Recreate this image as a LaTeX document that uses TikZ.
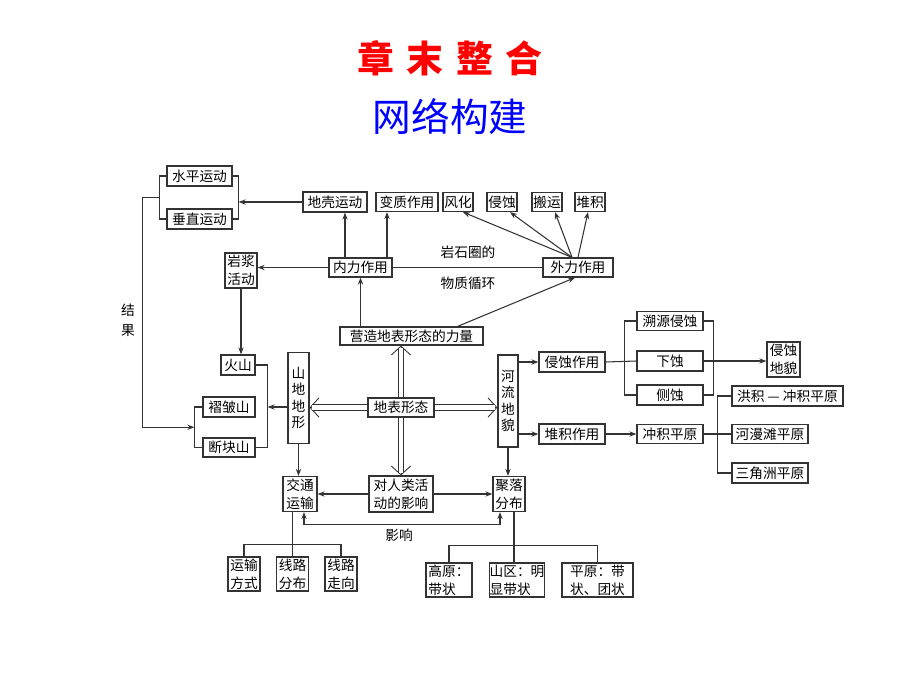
\documentclass[tikz,border=0pt]{standalone}
\usepackage{fontspec}
\setmainfont{Noto Sans CJK SC}
\usetikzlibrary{arrows.meta, calc}

\tikzset{
  box/.style={draw=black!80, line width=0.7pt, fill=white, inner sep=0pt,
    minimum height=20*0.02cm, align=center,
    font=\fontsize{7.8}{10.2}\selectfont},
  vbox/.style={box, font=\fontsize{7.8}{9.4}\selectfont},
  wd/.style={minimum width=#1*0.02cm},
  ht/.style={minimum height=#1*0.02cm},
  conn/.style={line width=0.6pt, draw=black!80},
  dbl/.style={draw=black!80, line width=0.5pt, double, double distance=2.6pt,
    shorten >=1.5pt},
  barb/.style={draw=black!80, line width=0.5pt,
    -{Straight Barb[length=5pt, width=11pt]}},
  lbl/.style={font=\fontsize{7.8}{11.3}\selectfont, align=center}
}

\begin{document}
\begin{tikzpicture}[x=0.02cm, y=-0.02cm, >={Stealth[length=4pt,width=3pt]}]
  \fill[white] (0,0) rectangle (920,690);
  \useasboundingbox (0,0) rectangle (920,690);

  % titles
  \node[text=red, font=\fontsize{21}{24}\selectfont\bfseries] (t1) at (450,58)
    {章\hspace{7pt}末\hspace{7pt}整\hspace{7pt}合};
  \node[text=blue, font=\fontsize{22}{25}\selectfont] (t2) at (450,117) {网络构建};

  % top row
  \node[box, wd=65] (spH) at (199.5,176) {水平运动};
  \node[box, wd=65] (spV) at (199.5,219) {垂直运动};
  \node[box, wd=64] (dk) at (335,202) {地壳运动};
  \node[box, wd=62, ht=19] (bz) at (407,202) {变质作用};
  \node[box, wd=30, ht=19] (fh) at (458,202) {风化};
  \node[box, wd=30, ht=19] (qs) at (502,202) {侵蚀};
  \node[box, wd=30, ht=19] (by) at (547,202) {搬运};
  \node[box, wd=30, ht=19] (dj) at (590,202) {堆积};

  % forces
  \node[box, wd=63, ht=19] (nl) at (360.5,267.5) {内力作用};
  \node[box, wd=70, ht=19] (wl) at (578,267.5) {外力作用};
  \node[lbl] (yq1) at (468,252) {岩石圈的};
  \node[lbl] (yq2) at (468,283) {物质循环};
  \node[box, wd=32, ht=35] (yj) at (241,270.5) {岩浆\\活动};
  \node[box, wd=143, ht=18] (yz) at (411.5,336) {营造地表形态的力量};

  % mountains
  \node[box, wd=34] (hs) at (238,365) {火山};
  \node[box, wd=52] (zz) at (229,407) {褶皱山};
  \node[box, wd=52, ht=19] (dkS) at (229,447.5) {断块山};
  \node[vbox, wd=21, ht=91] (sd) at (298.5,398) {山\\地\\地\\形};
  \node[lbl] (jg) at (128,320) {结\\果};

  % centre
  \node[box, wd=66, ht=19] (db) at (401,407.5) {地表形态};
  \node[vbox, wd=20, ht=92] (hl) at (508,401) {河\\流\\地\\貌};
  \node[box, wd=64, ht=36] (dr) at (401,494) {对人类活\\动的影响};
  \node[box, wd=34, ht=35] (jt) at (300,494) {交通\\运输};
  \node[box, wd=32, ht=35] (jl) at (509,494) {聚落\\分布};
  \node[lbl] (yx) at (399,535) {影响};

  % bottom rows
  \node[box, wd=32, ht=34] (ys) at (244,574) {运输\\方式};
  \node[box, wd=32, ht=34] (xf) at (292.5,574) {线路\\分布};
  \node[box, wd=32, ht=34] (xz) at (341,574) {线路\\走向};
  \node[box, wd=46, ht=34, align=left] (gy) at (449,580) {高原：\\带状};
  \node[box, wd=54, ht=34, align=left] (sq) at (517,580) {山区：明\\显带状};
  \node[box, wd=71, ht=34, align=left] (py) at (597.5,580) {平原：带\\状、团状};

  % rivers
  \node[box, wd=66] (qz) at (572,362) {侵蚀作用};
  \node[box, wd=66] (dz) at (572,434) {堆积作用};
  \node[box, wd=66, ht=19] (sy) at (670,321) {溯源侵蚀};
  \node[box, wd=66] (xs) at (670,361) {下蚀};
  \node[box, wd=66] (cs) at (670,395) {侧蚀};
  \node[box, wd=33, ht=35] (qm) at (783.5,359.5) {侵蚀\\地貌};
  \node[box, wd=66, ht=19] (cp) at (670,434) {冲积平原};
  \node[box, wd=111] (hj) at (787.5,396) {洪积 — 冲积平原};
  \node[box, wd=76, ht=19] (hm) at (770,434) {河漫滩平原};
  \node[box, wd=76] (sj) at (770,473) {三角洲平原};

  % brackets
  \draw[conn] (spH.east) -- ++(6,0) |- (spV.east);
  \draw[conn] (spH.west) -- ++(-7,0) |- (spV.west);
  \coordinate (brR) at ($(spH.east)!0.5!(spV.east)+(6,0)$);
  \coordinate (brL) at ($(spH.west)!0.5!(spV.west)+(-7,0)$);
  \draw[conn] (zz.west) -- ++(-8,0) |- (dkS.west);
  \coordinate (brB) at ($(zz.west)!0.5!(dkS.west)+(-8,0)$);
  \draw[conn] (hs.east) -- ++(12,0) |- (dkS.east);
  \coordinate (brS) at ($(hs.east)+(12,0)$);
  \draw[conn] (sy.west) -- ++(-12,0) |- (cs.west);
  \draw[conn] (sy.east) -- ++(10,0) |- (cs.east);
  \draw[conn] (hj.west) -- ++(-14,0) |- (sj.west);

  % arrows
  \draw[conn, ->] (dk.west) -- (dk.west -| brR);
  \draw[conn, ->] (brL) -- ++(-17,0) |- (brB);
  \draw[conn, ->] ([xshift=-0.31cm]nl.north) -- ([xshift=-0.31cm]nl.north |- dk.south);
  \draw[conn, ->] ([xshift=0.53cm]nl.north) -- ([xshift=0.53cm]nl.north |- bz.south);
  \draw[conn] (nl.east) -- (wl.west);
  \draw[conn, ->] (nl.west) -- (nl.west -| yj.east);
  \coordinate (wtop) at ([xshift=-0.12cm]wl.north);
  \draw[conn, ->] (wtop) -- ([xshift=0.1cm]fh.south);
  \draw[conn, ->] (wtop) -- ([xshift=0.16cm]qs.south);
  \draw[conn, ->] (wtop) -- ([xshift=0.16cm]by.south);
  \draw[conn, ->] (wl.north) -- ([xshift=-0.04cm]dj.south);
  \draw[conn, ->] (yz.north -| nl.south) -- (nl.south);
  \draw[conn, ->] ([xshift=-0.52cm]yz.north east) -- ([xshift=-0.06cm]wl.south);
  \draw[conn, ->] (yj.south) -- (yj.south |- hs.north);
  \draw[conn, ->] (sd.west |- zz.east) -- (zz.east -| brS);
  \draw[conn, ->] (sd.south) -- (sd.south |- jt.north);

  % double arrows
  \draw[barb] ($(db.north |- yz.south)+(0,8)$) -- (db.north |- yz.south);
  \draw[dbl] (db.north) -- (db.north |- yz.south);
  \draw[barb] ($(db.south |- dr.north)+(0,-8)$) -- (db.south |- dr.north);
  \draw[dbl] (db.south) -- (db.south |- dr.north);
  \draw[barb] ($(db.west -| sd.east)+(8,0)$) -- (db.west -| sd.east);
  \draw[dbl] (db.west) -- (db.west -| sd.east);
  \draw[barb] ($(db.east -| hl.west)+(-8,0)$) -- (db.east -| hl.west);
  \draw[dbl] (db.east) -- (db.east -| hl.west);

  \draw[conn, ->] (dr) -- (jt);
  \draw[conn, ->] (dr) -- (jl);
  \draw[conn, <->] ([xshift=0.08cm]jt.south) -- ++(0,12) -| ([xshift=-0.18cm]jl.south);
  \draw[conn, ->] (hl.south) -- (hl.south |- jl.north);

  \draw[conn] (ys.north) -- ++(0,-12) -| (xz.north);
  \draw[conn] (jt.south -| xf.north) -- (xf.north);
  \draw[conn] (gy.north) -- ++(0,-17) -| (py.north);
  \draw[conn] ([xshift=-0.06cm]jl.south -| sq.north) -- ([xshift=-0.06cm]sq.north);

  \draw[conn, ->] (hl.east |- qz) -- (qz.west);
  \draw[conn, ->] (hl.east |- dz) -- (dz.west);
  \draw[conn] (qz.east) -- (xs.west);
  \draw[conn, ->] (xs.east) -- (xs.east -| qm.west);
  \draw[conn, ->] (dz) -- (cp);
  \draw[conn] (cp.east) -- (hm.west);
\end{tikzpicture}
\end{document}
